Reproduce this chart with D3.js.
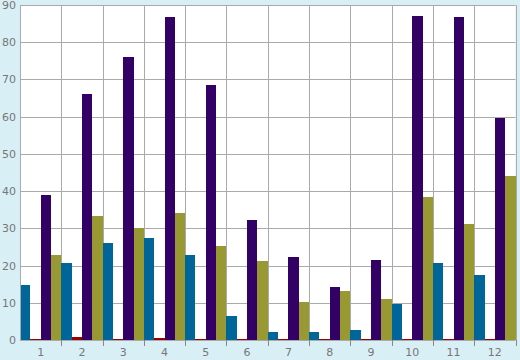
<!DOCTYPE html>
<html><head><meta charset="utf-8">
<script src="https://cdn.jsdelivr.net/npm/d3@7"></script>
<style>
html,body{margin:0;padding:0;background:#d9eff6;}
svg{display:block;}
</style></head>
<body>
<svg id="c" width="520" height="360"></svg>
<script>
const categories = ["1","2","3","4","5","6","7","8","9","10","11","12"];
const seriesNames = ["A","B","C","D"];
const blueVals   = [14.8, 20.7, 26.1, 27.3, 22.8, 6.4, 2.2, 2.2, 2.7, 9.7, 20.7, 17.5];
const redVals    = [0.3, 0.7, 0.3, 0.6, 0.3, 0.3, 0.3, 0.3, 0.3, 0.3, 0.3, 0.3];
const purpleVals = [39.0, 66.0, 76.0, 86.8, 68.5, 32.2, 22.3, 14.2, 21.5, 87.0, 86.8, 59.6];
const oliveVals  = [22.8, 33.3, 30.0, 34.0, 25.3, 21.2, 10.2, 13.2, 11.0, 38.4, 31.2, 44.0];
const yTicks = [0,10,20,30,40,50,60,70,80,90];
const colors = ["#006699","#990000","#330066","#999933"];
const seriesVals = [blueVals, redVals, purpleVals, oliveVals];

const svg = d3.select("#c");
const L = 20, R = 515.5, T = 5, B = 340;
const x = d3.scaleBand().domain(categories).range([L, R]).padding(0);
const xs = d3.scaleBand().domain(seriesNames).range([0, x.bandwidth()]).padding(0);
const y = d3.scaleLinear().domain([0, 90]).range([B, T]);

svg.append("rect").attr("x", L).attr("y", T).attr("width", R - L).attr("height", B - T).attr("fill", "#ffffff");

// horizontal grid
svg.append("g").selectAll("line").data(yTicks).join("line")
  .attr("x1", L).attr("x2", R)
  .attr("y1", d => Math.round(y(d)) + 0.5).attr("y2", d => Math.round(y(d)) + 0.5)
  .attr("stroke", "#aaaaaa").attr("stroke-width", 1);
// vertical grid at band boundaries
const bounds = categories.map(c => x(c)).concat([R]);
svg.append("g").selectAll("line").data(bounds).join("line")
  .attr("x1", d => Math.round(d) + 0.5).attr("x2", d => Math.round(d) + 0.5)
  .attr("y1", T).attr("y2", B)
  .attr("stroke", "#aaaaaa").attr("stroke-width", 1);

// bars
const rows = [];
categories.forEach((c, i) => seriesNames.forEach((s, j) => rows.push({c, s, j, v: seriesVals[j][i]})));
svg.append("g").attr("shape-rendering", "crispEdges").selectAll("rect").data(rows).join("rect")
  .attr("x", d => x(d.c) + xs(d.s))
  .attr("width", xs.bandwidth())
  .attr("y", d => y(d.v))
  .attr("height", d => B - y(d.v))
  .attr("fill", d => colors[d.j]);

// y axis
const ya = svg.append("g").attr("transform", `translate(${L},0)`)
  .call(d3.axisLeft(y).tickValues(yTicks).tickSize(0).tickPadding(4));
ya.select(".domain").attr("stroke", "#aaaaaa");
ya.selectAll("text").attr("fill", "#777777").style("font-family", "DejaVu Sans, Verdana, sans-serif").style("font-size", "11px");

// x axis
const xa = svg.append("g").attr("transform", `translate(0,${B})`)
  .call(d3.axisBottom(x).tickSize(0).tickPadding(8));
xa.select(".domain").remove();
xa.selectAll("text").attr("fill", "#777777").style("font-family", "DejaVu Sans, Verdana, sans-serif").style("font-size", "11px");
// x tick marks at band boundaries
svg.append("g").selectAll("line").data(bounds.slice(1)).join("line")
  .attr("x1", d => Math.round(d) + 0.5).attr("x2", d => Math.round(d) + 0.5)
  .attr("y1", B).attr("y2", B + 6)
  .attr("stroke", "#888888");
</script>
</body></html>
